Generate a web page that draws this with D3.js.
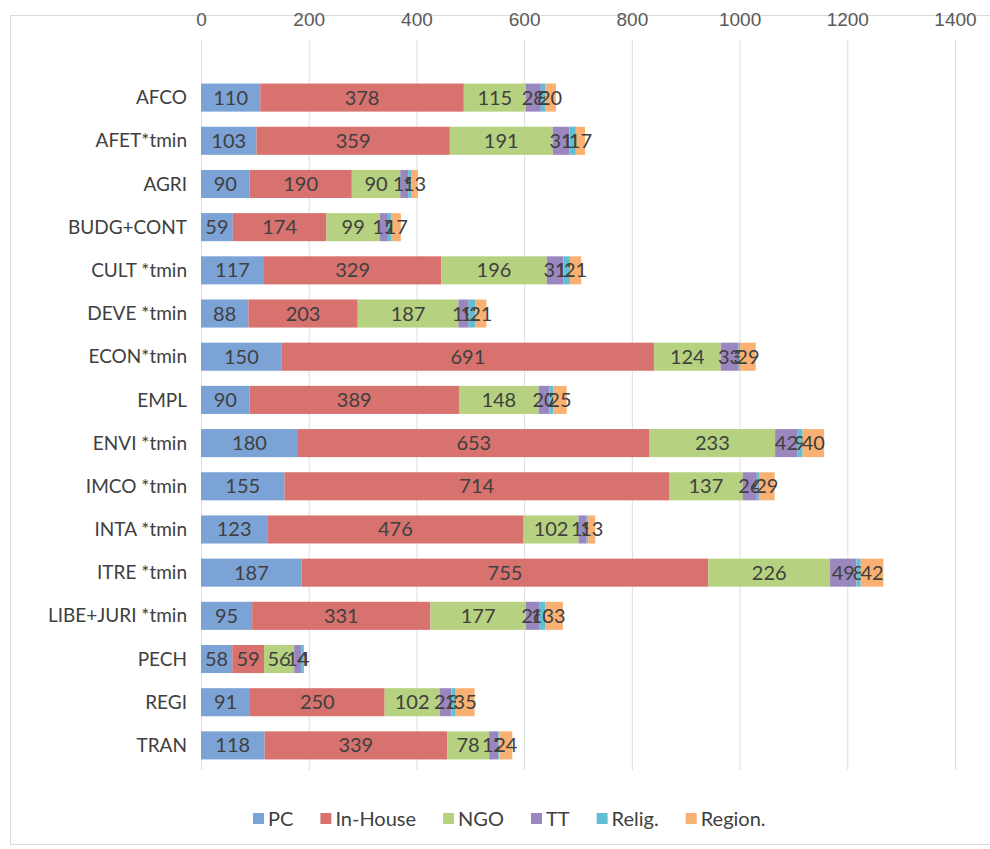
<!DOCTYPE html>
<html>
<head>
<meta charset="utf-8">
<script src="https://cdn.jsdelivr.net/npm/d3@7"></script>
<style>
  body { margin: 0; background: #fff; }
  svg { display: block; font-family: Lato, "Open Sans", sans-serif; }
  .tick-lbl { fill: #595959; font-size: 19px; }
  .cat-lbl { fill: #404040; font-size: 19px; }
  .seg-lbl { fill: #404040; font-size: 20px; }
  .lg-lbl { fill: #404040; font-size: 20px; }
</style>
</head>
<body>
<div id="chart"></div>
<script>
const SVG_W = 990;
const SVG_H = 849;
const PLOT_L = 201;
const PLOT_R = 955;

var categories = ["AFCO", "AFET*tmin", "AGRI", "BUDG+CONT", "CULT *tmin", "DEVE *tmin",
  "ECON*tmin", "EMPL", "ENVI *tmin", "IMCO *tmin", "INTA *tmin", "ITRE *tmin",
  "LIBE+JURI *tmin", "PECH", "REGI", "TRAN"];

var seriesNames = ["PC", "In-House", "NGO", "TT", "Relig.", "Region."];
var seriesColors = ["#7ca3d6", "#d7726f", "#b6d17f", "#9b87c0", "#62bfd3", "#f9b173"];

var pc      = [110, 103,  90,  59, 117,  88, 150,  90, 180, 155, 123, 187,  95, 58,  91, 118];
var inHouse = [378, 359, 190, 174, 329, 203, 691, 389, 653, 714, 476, 755, 331, 59, 250, 339];
var ngo     = [115, 191,  90,  99, 196, 187, 124, 148, 233, 137, 102, 226, 177, 56, 102,  78];
var tt      = [ 28,  31,  15,  15,  31,  19,  33,  20,  42,  26,  15,  49,  26, 14,  22,  17];
var relig   = [  8,  12,   5,   7,  12,  12,   3,   7,   9,   4,   3,   8,  10,  4,   8,   2];
var region  = [ 20,  17,  13,  17,  21,  21,  29,  25,  40,  29,  13,  42,  33,  0,  35,  24];

var tickValues = [0, 200, 400, 600, 800, 1000, 1200, 1400];

var series = [pc, inHouse, ngo, tt, relig, region];

// one row per category, keyed by series name, for d3.stack
var rows = categories.map((c, i) => {
  var row = { cat: c };
  seriesNames.forEach((s, k) => row[s] = series[k][i]);
  return row;
});

var stacked = d3.stack().keys(seriesNames)(rows);

var svg = d3.select("#chart").append("svg")
  .attr("width", SVG_W)
  .attr("height", SVG_H);

// chart frame
svg.append("rect")
  .attr("x", 10.5)
  .attr("y", 15.5)
  .attr("width", SVG_W)
  .attr("height", 829)
  .attr("fill", "none")
  .attr("stroke", "#d9d9d9");

var x = d3.scaleLinear().domain([0, 1400]).range([PLOT_L, PLOT_R]);
var y = d3.scaleBand().domain(categories).range([76, 767])
  .paddingInner(0.35).paddingOuter(0.175);

// gridlines
svg.append("g")
  .attr("transform", "translate(0,40)")
  .call(d3.axisTop(x).tickValues(tickValues).tickSize(-730).tickFormat(""))
  .call(g => g.select(".domain").remove())
  .call(g => g.selectAll("line").attr("stroke", "#dedede"));

// tick labels along the top
svg.append("g")
  .attr("transform", "translate(0,27)")
  .call(d3.axisTop(x).tickValues(tickValues).tickSize(0).tickPadding(0).tickFormat(d3.format("d")))
  .call(g => g.select(".domain").remove())
  .call(g => g.selectAll("text")
    .attr("class", "tick-lbl")
    .attr("font-size", null)
    .attr("font-family", null)
    .attr("dy", "0.32em")
    .attr("y", -7));

// category labels
svg.selectAll("text.cat-lbl")
  .data(categories)
  .enter()
  .append("text")
  .attr("class", "cat-lbl")
  .attr("x", PLOT_L - 14)
  .attr("y", d => y(d) + y.bandwidth() / 2)
  .attr("dy", "0.35em")
  .attr("text-anchor", "end")
  .text(d => d);

var layers = svg.selectAll("g.layer")
  .data(stacked)
  .enter()
  .append("g")
  .attr("class", "layer")
  .attr("fill", (d, i) => seriesColors[i]);

layers.selectAll("rect")
  .data(d => d)
  .enter()
  .append("rect")
  .attr("x", d => x(d[0]))
  .attr("y", d => y(d.data.cat))
  .attr("width", d => x(d[1]) - x(d[0]))
  .attr("height", y.bandwidth());

// value labels, centred on each segment
layers.selectAll("text")
  .data(d => d.filter(s => s[1] - s[0] > 0))
  .enter()
  .append("text")
  .attr("class", "seg-lbl")
  .attr("x", d => (x(d[0]) + x(d[1])) / 2)
  .attr("y", d => y(d.data.cat) + y.bandwidth() / 2)
  .attr("dy", "0.35em")
  .attr("text-anchor", "middle")
  .text(d => d[1] - d[0]);

// legend
var legend = svg.append("g").attr("transform", "translate(0,819)");
var lx = 253;
seriesNames.forEach((s, i) => {
  var item = legend.append("g").attr("transform", "translate(" + lx + ",0)");
  item.append("rect")
    .attr("x", 0)
    .attr("y", -6)
    .attr("width", 11)
    .attr("height", 11)
    .attr("fill", seriesColors[i]);
  var t = item.append("text")
    .attr("class", "lg-lbl")
    .attr("x", 15)
    .attr("y", 0)
    .attr("dy", "0.35em")
    .text(s);
  lx += 15 + t.node().getComputedTextLength() + 27;
});
</script>
</body>
</html>
